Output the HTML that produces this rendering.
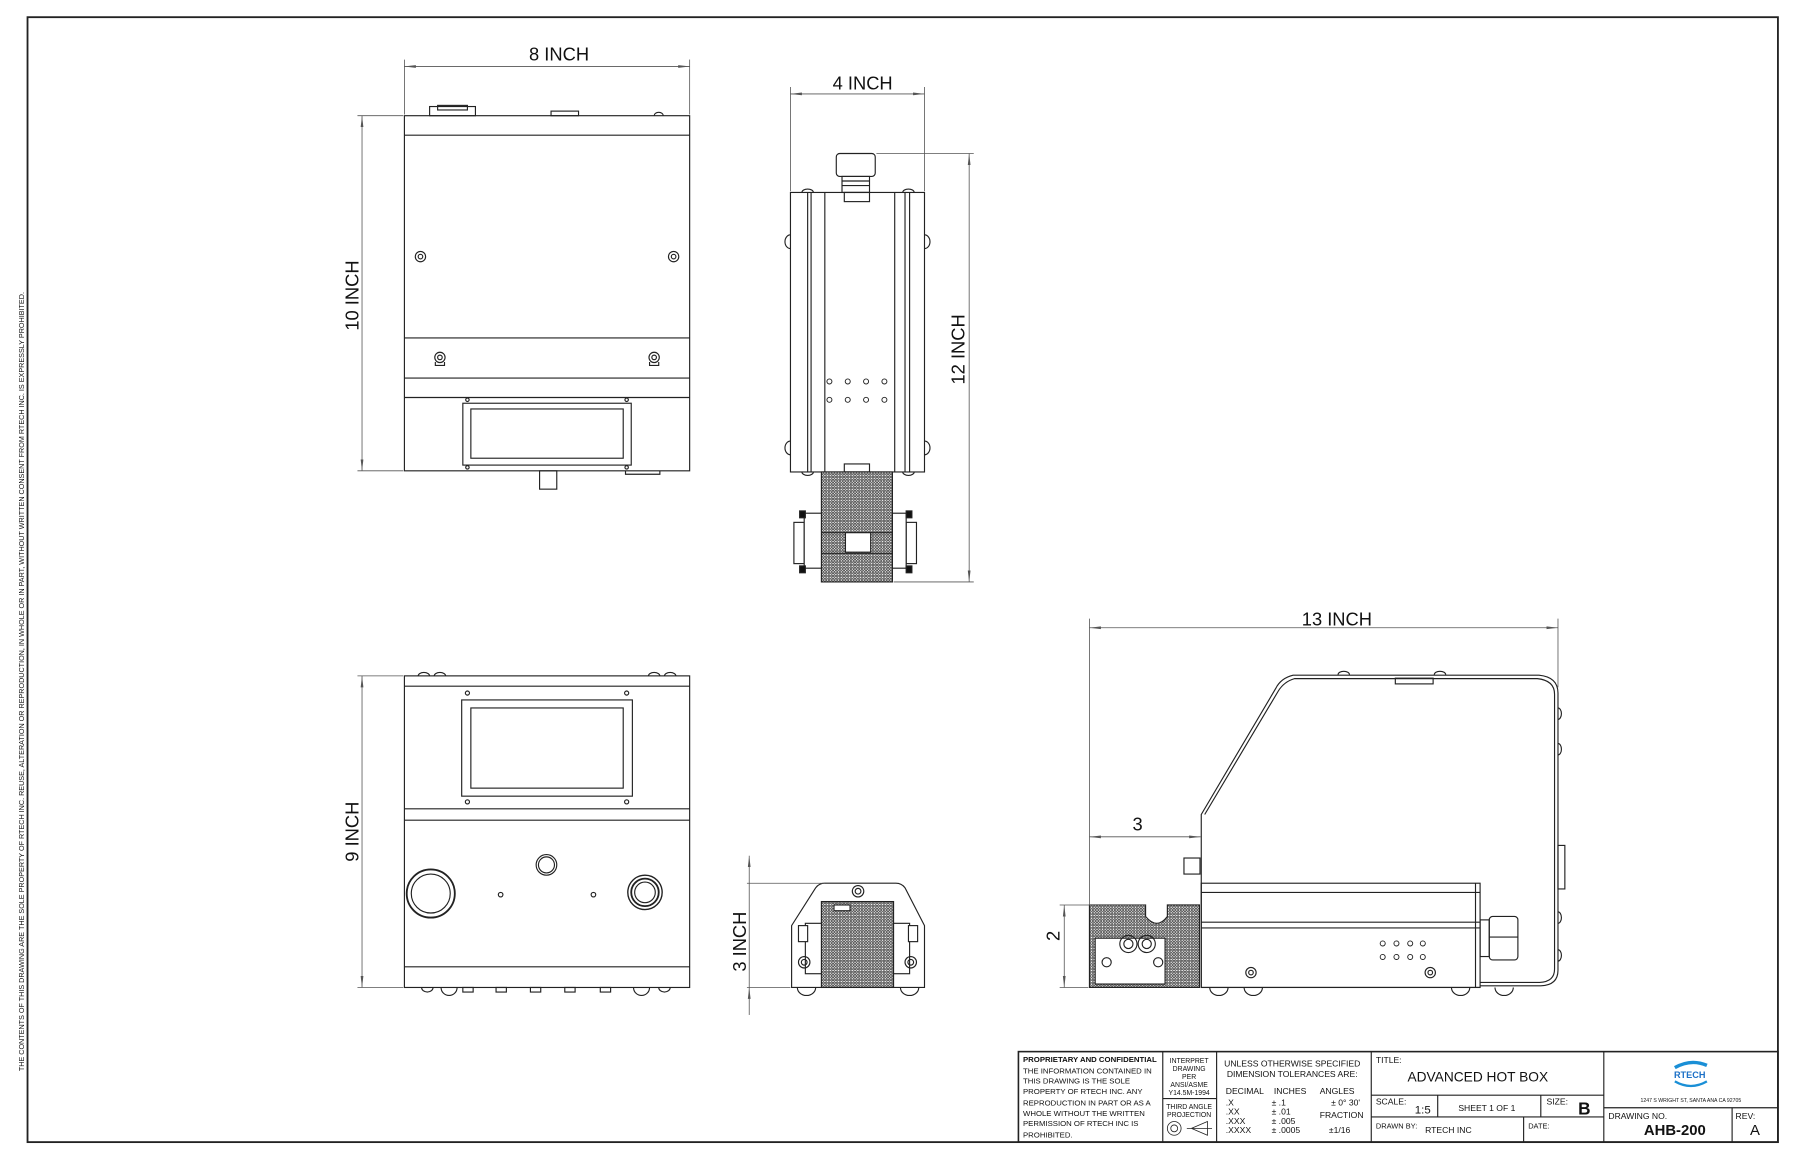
<!DOCTYPE html>
<html><head><meta charset="utf-8"><style>
html,body{margin:0;padding:0;background:#fff}
svg{display:block}
text{font-family:"Liberation Sans",sans-serif;fill:#111}
</style></head><body>
<svg width="1794" height="1153" viewBox="0 0 1566 1006.5" xmlns="http://www.w3.org/2000/svg">
<defs>
<pattern id="mesh" width="2.4" height="2.4" patternUnits="userSpaceOnUse"><rect width="2.4" height="2.4" fill="#fff"/><circle cx="1.2" cy="1.2" r="0.8" fill="none" stroke="#222" stroke-width="0.6"/></pattern>
<marker id="ar" markerWidth="10" markerHeight="4" refX="10" refY="2" orient="auto" markerUnits="userSpaceOnUse"><path d="M0,0.8 L10,2 L0,3.2z" fill="#555"/></marker>
<marker id="al" markerWidth="10" markerHeight="4" refX="0" refY="2" orient="auto" markerUnits="userSpaceOnUse"><path d="M10,0.8 L0,2 L10,3.2z" fill="#555"/></marker>
</defs>
<g fill="none" stroke="#222" stroke-width="1">
<rect x="24" y="15" width="1528" height="982" stroke-width="1.6"/>

<!-- TOP VIEW -->
<rect x="353" y="101" width="249" height="310"/>
<line x1="353" y1="118" x2="602" y2="118"/>
<line x1="353" y1="295" x2="602" y2="295"/>
<line x1="353" y1="330" x2="602" y2="330"/>
<line x1="353" y1="347" x2="602" y2="347"/>
<rect x="375" y="93" width="40" height="8"/><rect x="382" y="92" width="26" height="4"/>
<rect x="481" y="97" width="24" height="4"/>
<path d="M571,101 a4,3 0 0 1 8,0"/>
<circle cx="367" cy="224" r="4.5"/><circle cx="367" cy="224" r="2"/>
<circle cx="588" cy="224" r="4.5"/><circle cx="588" cy="224" r="2"/>
<circle cx="384" cy="312" r="4.5"/><circle cx="384" cy="312" r="2"/><path d="M380,316 v3 h8 v-3"/>
<circle cx="571" cy="312" r="4.5"/><circle cx="571" cy="312" r="2"/><path d="M567,316 v3 h8 v-3"/>
<rect x="404" y="352" width="147" height="54"/>
<rect x="411" y="357" width="133" height="43"/>
<circle cx="408" cy="349" r="1.5"/><circle cx="547" cy="349" r="1.5"/>
<circle cx="408" cy="408" r="1.5"/><circle cx="547" cy="408" r="1.5"/>
<rect x="471" y="411" width="15" height="16"/>
<path d="M546,411 v3 h30 v-3"/>
<g stroke="#555" stroke-width="0.7">
<line x1="353" y1="52" x2="353" y2="100"/><line x1="602" y1="52" x2="602" y2="100"/>
<line x1="353" y1="58" x2="602" y2="58" marker-start="url(#al)" marker-end="url(#ar)"/>
<line x1="312" y1="101" x2="352" y2="101"/><line x1="312" y1="411" x2="352" y2="411"/>
<line x1="316" y1="101" x2="316" y2="411" marker-start="url(#al)" marker-end="url(#ar)"/>
</g>

<!-- SIDE VIEW 4 INCH -->
<rect x="690" y="168" width="117" height="244"/>
<line x1="705" y1="168" x2="705" y2="412"/><line x1="708" y1="168" x2="708" y2="412"/>
<line x1="720" y1="168" x2="720" y2="412"/>
<line x1="781" y1="168" x2="781" y2="412"/><line x1="790" y1="168" x2="790" y2="412"/><line x1="794" y1="168" x2="794" y2="412"/>
<rect x="730" y="134" width="34" height="20" rx="3"/><rect x="735" y="154" width="24" height="14"/>
<line x1="735" y1="158" x2="759" y2="158"/><line x1="735" y1="162" x2="759" y2="162"/>
<rect x="737" y="168" width="22" height="8"/><rect x="737" y="405" width="22" height="7"/>
<path d="M690,205 a4,5 0 0 0 0,12"/><path d="M807,205 a4,5 0 0 1 0,12"/>
<path d="M690,385 a4,5 0 0 0 0,12"/><path d="M807,385 a4,5 0 0 1 0,12"/>
<path d="M700,168 a5,3 0 0 1 10,0"/><path d="M788,168 a5,3 0 0 1 10,0"/>
<path d="M700,412 a5,3 0 0 0 10,0"/><path d="M788,412 a5,3 0 0 0 10,0"/>
<g stroke-width="0.8">
<circle cx="724" cy="333" r="2.2"/><circle cx="740" cy="333" r="2.2"/><circle cx="756" cy="333" r="2.2"/><circle cx="772" cy="333" r="2.2"/>
<circle cx="724" cy="349" r="2.2"/><circle cx="740" cy="349" r="2.2"/><circle cx="756" cy="349" r="2.2"/><circle cx="772" cy="349" r="2.2"/>
</g>
<rect x="717" y="412" width="62" height="96" fill="url(#mesh)"/>
<line x1="717" y1="465" x2="779" y2="465"/><line x1="717" y1="483" x2="779" y2="483"/>
<rect x="738" y="465" width="22" height="17" fill="#fff"/>
<rect x="693" y="456" width="9" height="36" fill="#fff"/><rect x="702" y="448" width="15" height="48" fill="#fff"/>
<rect x="698" y="446" width="5" height="6" fill="#111"/><rect x="698" y="494" width="5" height="6" fill="#111"/>
<rect x="791" y="456" width="9" height="36" fill="#fff"/><rect x="779" y="448" width="12" height="48" fill="#fff"/>
<rect x="791" y="446" width="5" height="6" fill="#111"/><rect x="791" y="494" width="5" height="6" fill="#111"/>
<g stroke="#555" stroke-width="0.7">
<line x1="690" y1="76" x2="690" y2="167"/><line x1="807" y1="76" x2="807" y2="167"/>
<line x1="690" y1="82" x2="807" y2="82" marker-start="url(#al)" marker-end="url(#ar)"/>
<line x1="765" y1="134" x2="850" y2="134"/><line x1="780" y1="508" x2="850" y2="508"/>
<line x1="846" y1="134" x2="846" y2="508" marker-start="url(#al)" marker-end="url(#ar)"/>
</g>

<!-- FRONT VIEW -->
<rect x="353" y="590" width="249" height="272"/>
<line x1="353" y1="599" x2="602" y2="599"/>
<line x1="353" y1="706" x2="602" y2="706"/><line x1="353" y1="716" x2="602" y2="716"/>
<line x1="353" y1="844" x2="602" y2="844"/>
<rect x="403" y="611" width="149" height="84"/><rect x="411" y="618" width="133" height="70"/>
<circle cx="408" cy="605" r="1.8"/><circle cx="547" cy="605" r="1.8"/><circle cx="408" cy="700" r="1.8"/><circle cx="547" cy="700" r="1.8"/>
<circle cx="376" cy="780" r="21" stroke-width="1.6"/><circle cx="376" cy="780" r="17"/>
<circle cx="477" cy="755" r="9"/><circle cx="477" cy="755" r="7"/>
<circle cx="437" cy="781" r="2"/><circle cx="518" cy="781" r="2"/>
<circle cx="563" cy="779" r="15" stroke-width="1.2"/><circle cx="563" cy="779" r="12" stroke-width="1.6"/><circle cx="563" cy="779" r="9"/>
<path d="M365,590 a5,3 0 0 1 10,0"/><path d="M379,590 a5,3 0 0 1 10,0"/><path d="M566,590 a5,3 0 0 1 10,0"/><path d="M580,590 a5,3 0 0 1 10,0"/>
<path d="M368,862 a5,4 0 0 0 10,0"/><path d="M385,862 a7,7 0 0 0 14,0"/>
<rect x="404" y="862" width="9" height="4"/><rect x="433" y="862" width="9" height="4"/><rect x="463" y="862" width="9" height="4"/><rect x="493" y="862" width="9" height="4"/><rect x="524" y="862" width="9" height="4"/>
<path d="M553,862 a7,7 0 0 0 14,0"/><path d="M575,862 a5,4 0 0 0 10,0"/>
<g stroke="#555" stroke-width="0.7">
<line x1="312" y1="590" x2="352" y2="590"/><line x1="312" y1="862" x2="352" y2="862"/>
<line x1="316" y1="590" x2="316" y2="862" marker-start="url(#al)" marker-end="url(#ar)"/>
</g>

<!-- 3 INCH VIEW -->
<path d="M691,862 V808 L712,775 Q715,771 720,771 H782 Q787,771 790,775 L807,808 V862 Z"/>
<rect x="717" y="787" width="63" height="75" fill="url(#mesh)"/>
<rect x="728" y="790" width="14" height="5" fill="#fff"/>
<circle cx="749" cy="778" r="5"/><circle cx="749" cy="778" r="2.5"/>
<rect x="703" y="806" width="14" height="44" fill="#fff"/><rect x="697" y="808" width="8" height="14" fill="#fff"/>
<rect x="780" y="806" width="14" height="44" fill="#fff"/><rect x="793" y="808" width="8" height="14" fill="#fff"/>
<circle cx="702" cy="840" r="5"/><circle cx="702" cy="840" r="2.5"/>
<circle cx="795" cy="840" r="5"/><circle cx="795" cy="840" r="2.5"/>
<path d="M696,862 a8,7 0 0 0 16,0"/><path d="M786,862 a8,7 0 0 0 16,0"/>
<g stroke="#555" stroke-width="0.7">
<line x1="652" y1="771" x2="720" y2="771"/><line x1="652" y1="862" x2="690" y2="862"/>
<line x1="654" y1="747" x2="654" y2="771" marker-start="url(#al)"/>
<line x1="654" y1="862" x2="654" y2="886" marker-start="url(#al)"/>
<line x1="654" y1="771" x2="654" y2="862"/>
</g>

<!-- RIGHT SIDE VIEW -->
<path d="M1292,862 H1048.6 V711 L1113.6,601 Q1118,592 1128.8,589.4 H1343.4 Q1360,591 1360,605 V847 Q1360,860 1345,860.6 H1292"/>
<path d="M1051.6,711 L1116,603 Q1121,595 1130,592.4 H1342 Q1357,594 1357,606 V846 Q1357,857 1344,857.6 H1292"/>
<rect x="1048.6" y="771" width="243.4" height="91"/>
<line x1="1048.6" y1="779" x2="1292" y2="779"/><line x1="1048.6" y1="805" x2="1292" y2="805"/><line x1="1048.6" y1="810" x2="1292" y2="810"/>
<line x1="1288" y1="771" x2="1288" y2="862"/>
<rect x="1033.5" y="749" width="14" height="14"/>
<rect x="1218" y="592" width="33" height="5"/>
<path d="M1168,589 a5,3 0 0 1 10,0"/><path d="M1252,589 a5,3 0 0 1 10,0"/>
<path d="M1360,618 a3,5 0 0 1 0,10"/><path d="M1360,649 a3,5 0 0 1 0,10"/><path d="M1360,796 a3,5 0 0 1 0,10"/><path d="M1360,829 a3,5 0 0 1 0,10"/>
<rect x="1360" y="738" width="6" height="38"/>
<rect x="1292" y="803" width="8" height="32"/><rect x="1300" y="800" width="25" height="38" rx="3"/><line x1="1300" y1="818" x2="1325" y2="818"/>
<g stroke-width="0.8">
<circle cx="1207" cy="823.6" r="2.2"/><circle cx="1219" cy="823.6" r="2.2"/><circle cx="1231" cy="823.6" r="2.2"/><circle cx="1242" cy="823.6" r="2.2"/>
<circle cx="1207" cy="835.4" r="2.2"/><circle cx="1219" cy="835.4" r="2.2"/><circle cx="1231" cy="835.4" r="2.2"/><circle cx="1242" cy="835.4" r="2.2"/>
</g>
<circle cx="1092" cy="849" r="4.5"/><circle cx="1092" cy="849" r="2"/>
<circle cx="1248.5" cy="849" r="4.5"/><circle cx="1248.5" cy="849" r="2"/>
<path d="M1056,862 a8,7 0 0 0 16,0"/><path d="M1086,862 a8,7 0 0 0 16,0"/><path d="M1267,862 a8,7 0 0 0 16,0"/><path d="M1305,862 a8,7 0 0 0 16,0"/>
<path d="M951,790 V862 H1047 V790 H1019 V800 Q1010,812 1000,800 V790 Z" fill="url(#mesh)"/>
<rect x="956" y="819" width="61" height="40" fill="#fff"/>
<circle cx="985" cy="824" r="7.5"/><circle cx="985" cy="824" r="4"/><circle cx="1001" cy="824" r="7.5"/><circle cx="1001" cy="824" r="4"/>
<circle cx="966" cy="840" r="4"/><circle cx="1011" cy="840" r="4"/>
<g stroke="#555" stroke-width="0.7">
<line x1="951" y1="540" x2="951" y2="790"/><line x1="1360" y1="540" x2="1360" y2="600"/>
<line x1="951" y1="548" x2="1360" y2="548" marker-start="url(#al)" marker-end="url(#ar)"/>
<line x1="951" y1="730.5" x2="1048" y2="730.5" marker-start="url(#al)" marker-end="url(#ar)"/>
<line x1="925" y1="790" x2="1000" y2="790"/><line x1="925" y1="862" x2="950" y2="862"/>
<line x1="929" y1="790" x2="929" y2="862" marker-start="url(#al)" marker-end="url(#ar)"/>
</g>

<!-- TITLE BLOCK -->
<rect x="889" y="918" width="663" height="79" stroke-width="1.4"/>
<line x1="1015" y1="918" x2="1015" y2="997"/><line x1="1062" y1="918" x2="1062" y2="997"/>
<line x1="1197" y1="918" x2="1197" y2="997"/><line x1="1400" y1="918" x2="1400" y2="997"/>
<line x1="1015" y1="959" x2="1062" y2="959"/>
<line x1="1197" y1="956" x2="1400" y2="956"/><line x1="1197" y1="975" x2="1400" y2="975"/>
<line x1="1255" y1="956" x2="1255" y2="975"/><line x1="1345" y1="956" x2="1345" y2="975"/>
<line x1="1330" y1="975" x2="1330" y2="997"/>
<line x1="1400" y1="967" x2="1552" y2="967"/><line x1="1512" y1="967" x2="1512" y2="997"/>
<circle cx="1025" cy="985" r="6" stroke-width="0.7"/><circle cx="1025" cy="985" r="3" stroke-width="0.7"/>
<path d="M1040,985 L1054,979 V991 Z M1036,985 H1058" stroke-width="0.7"/>
<path d="M1462,932 Q1476,924 1490,930" stroke="#1a8fd6" stroke-width="3"/>
<path d="M1462,944 Q1476,952 1490,944" stroke="#1a8fd6" stroke-width="2"/>
</g>
<g font-size="16">
<text x="488" y="53" text-anchor="middle">8 INCH</text>
<text x="753" y="78" text-anchor="middle">4 INCH</text>
<text x="1167" y="546" text-anchor="middle">13 INCH</text>
<text x="993" y="725" text-anchor="middle">3</text>
<text transform="translate(313,258) rotate(-90)" text-anchor="middle">10 INCH</text>
<text transform="translate(842,305) rotate(-90)" text-anchor="middle">12 INCH</text>
<text transform="translate(313,726) rotate(-90)" text-anchor="middle">9 INCH</text>
<text transform="translate(651,822) rotate(-90)" text-anchor="middle">3 INCH</text>
<text transform="translate(925,817) rotate(-90)" text-anchor="middle">2</text>
</g>
<text transform="translate(21,595) rotate(-90)" text-anchor="middle" font-size="6.3">THE CONTENTS OF THIS DRAWING ARE THE SOLE PROPERTY OF RTECH INC. REUSE, ALTERATION OR REPRODUCTION, IN WHOLE OR IN PART, WITHOUT WRITTEN CONSENT FROM RTECH INC. IS EXPRESSLY PROHIBITED.</text>
<g font-size="6.8">
<text x="893" y="927" font-weight="bold">PROPRIETARY AND CONFIDENTIAL</text>
<text x="893" y="937">THE INFORMATION CONTAINED IN</text>
<text x="893" y="946">THIS DRAWING IS THE SOLE</text>
<text x="893" y="955">PROPERTY OF RTECH INC. ANY</text>
<text x="893" y="965">REPRODUCTION IN PART OR AS A</text>
<text x="893" y="974">WHOLE WITHOUT THE WRITTEN</text>
<text x="893" y="983">PERMISSION OF RTECH INC IS</text>
<text x="893" y="993">PROHIBITED.</text>
</g>
<g font-size="6" text-anchor="middle">
<text x="1038" y="928">INTERPRET</text><text x="1038" y="935">DRAWING</text><text x="1038" y="942">PER</text><text x="1038" y="949">ANSI/ASME</text><text x="1038" y="956">Y14.5M-1994</text>
<text x="1038" y="968">THIRD ANGLE</text><text x="1038" y="975">PROJECTION</text>
</g>
<g font-size="7.5">
<text x="1128" y="931" text-anchor="middle">UNLESS OTHERWISE SPECIFIED</text>
<text x="1128" y="940" text-anchor="middle">DIMENSION TOLERANCES ARE:</text>
<text x="1070" y="955">DECIMAL</text><text x="1112" y="955">INCHES</text><text x="1152" y="955">ANGLES</text>
<text x="1070" y="965">.X</text><text x="1110" y="965">±  .1</text><text x="1162" y="965">± 0° 30'</text>
<text x="1070" y="973">.XX</text><text x="1110" y="973">±  .01</text><text x="1152" y="976">FRACTION</text>
<text x="1070" y="981">.XXX</text><text x="1110" y="981">±  .005</text>
<text x="1070" y="989">.XXXX</text><text x="1110" y="989">±  .0005</text><text x="1160" y="989">±1/16</text>
<text x="1201" y="928">TITLE:</text>
<text x="1201" y="964">SCALE:</text>
<text x="1273" y="970">SHEET  1  OF  1</text>
<text x="1350" y="964">SIZE:</text>
<text x="1201" y="985" font-size="6.5">DRAWN BY:</text>
<text x="1244" y="989">RTECH INC</text>
<text x="1334" y="985" font-size="6.5">DATE:</text>
<text x="1404" y="977">DRAWING NO.</text>
<text x="1515" y="977">REV:</text>
</g>
<text x="1290" y="944" font-size="12" text-anchor="middle">ADVANCED HOT BOX</text>
<text x="1235" y="972" font-size="10">1:5</text>
<text x="1383" y="973" font-size="15" font-weight="bold" text-anchor="middle">B</text>
<text x="1462" y="991" font-size="13" font-weight="bold" text-anchor="middle">AHB-200</text>
<text x="1532" y="991" font-size="13" text-anchor="middle">A</text>
<text x="1475" y="941" font-size="8" font-weight="bold" text-anchor="middle" style="fill:#1a6fc6">RTECH</text>
<text x="1476" y="962" font-size="4.5" text-anchor="middle">1247 S WRIGHT ST, SANTA ANA CA 92705</text>
</svg>
</body></html>
